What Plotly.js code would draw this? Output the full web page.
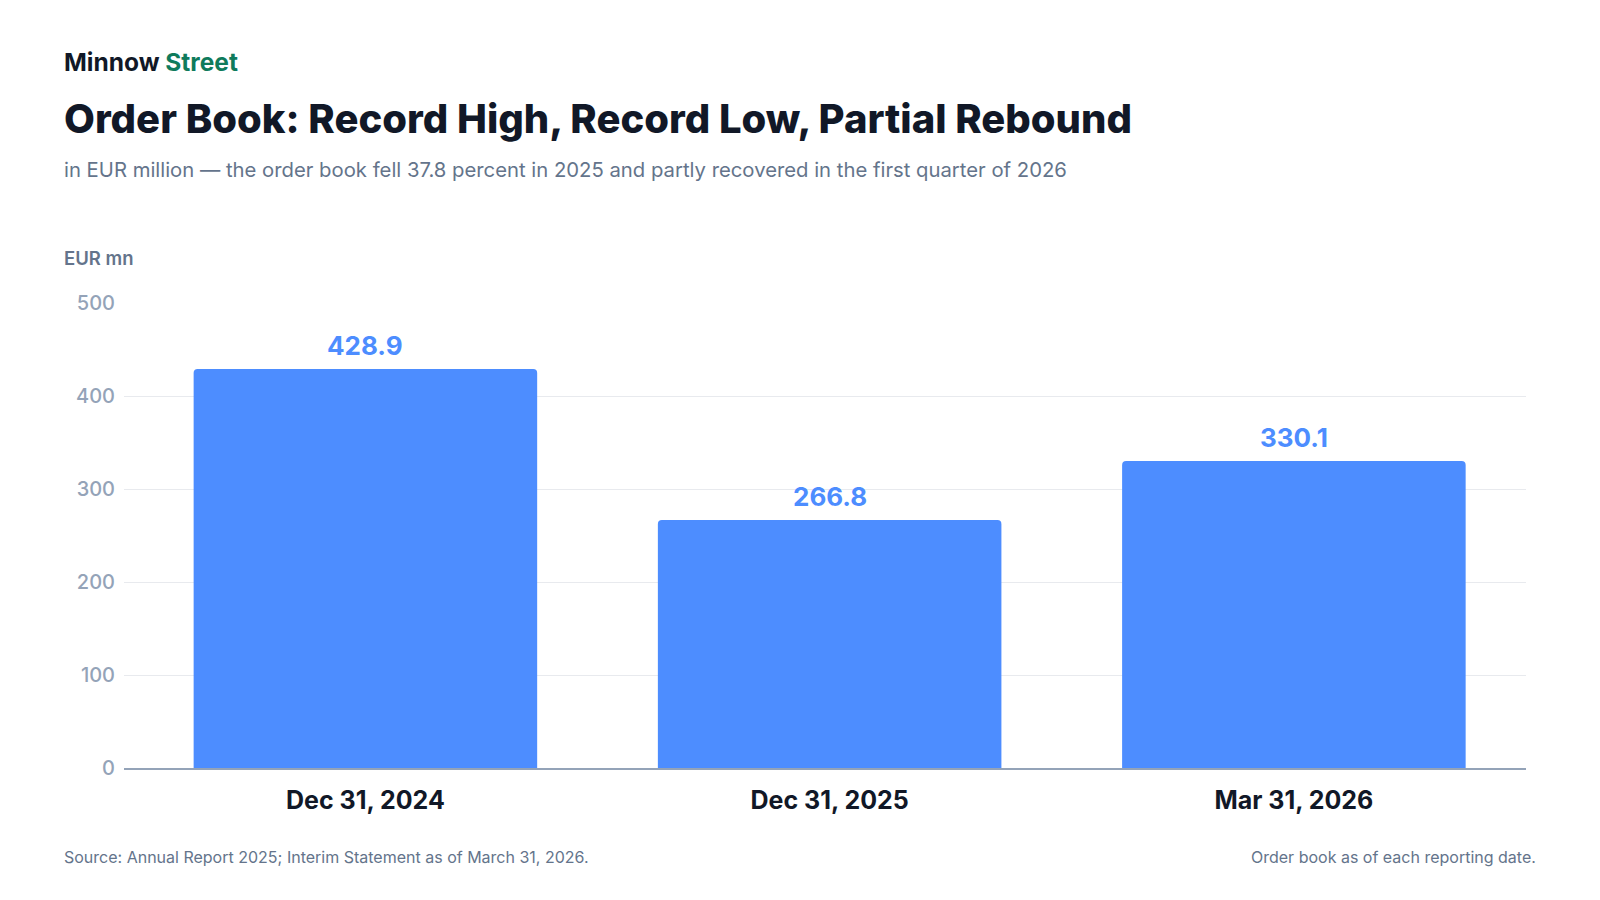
<!DOCTYPE html>
<html>
<head>
<meta charset="utf-8">
<script src="https://cdn.plot.ly/plotly-3.0.1.min.js"></script>
<style>
  html, body { margin: 0; padding: 0; background: #ffffff; }
  #chart { width: 1600px; height: 900px; }
</style>
</head>
<body>
<div id="chart"></div>
<script>
// Order book by reporting date, EUR million
const dates = ['Dec 31, 2024', 'Dec 31, 2025', 'Mar 31, 2026'];
const orderBook = [428.9, 266.8, 330.1];
const yTicks = [0, 100, 200, 300, 400, 500];

const FONT = 'Inter, "Noto Sans", sans-serif';
const BLUE = '#4d8dff';
const INK = '#111827';
const SLATE = '#64748b';
const MUTED = '#94a3b8';

// plot area in pixels
const plotLeft = 124, plotRight = 1526, plotTop = 303, plotBottom = 768;
const plotW = plotRight - plotLeft, plotH = plotBottom - plotTop;

// pixel -> paper coordinates for the text around the chart
function px(x) { return (x - plotLeft) / plotW; }
function py(y) { return (plotBottom - y) / plotH; }

function textNote(text, x, y, size, color, weight, xanchor) {
    return {
        text: text,
        xref: 'paper', yref: 'paper',
        x: px(x), y: py(y),
        xanchor: xanchor || 'left', yanchor: 'middle',
        showarrow: false,
        align: xanchor === 'right' ? 'right' : 'left',
        font: { family: FONT, size: size, color: color, weight: weight || 400 }
    };
}

const annotations = [
    textNote('Minnow <span style="color:#0f7b5c">Street</span>', 62, 62, 24.5, INK, 700),
    textNote('Order Book: Record High, Record Low, Partial Rebound', 62, 119, 40, INK, 800),
    textNote('in EUR million — the order book fell 37.8 percent in 2025 and partly recovered in the first quarter of 2026', 62, 169, 20.3, SLATE),
    textNote('EUR mn', 62, 258, 18.5, SLATE, 600),
    textNote('Source: Annual Report 2025; Interim Statement as of March 31, 2026.', 62, 857, 16, SLATE),
    textNote('Order book as of each reporting date.', 1538, 857, 16, SLATE, 400, 'right')
];

// value labels above each bar
dates.forEach(function(d, i) {
    annotations.push({
        x: i, y: orderBook[i],
        xref: 'x', yref: 'y',
        text: orderBook[i].toFixed(1),
        showarrow: false,
        yanchor: 'bottom',
        yshift: 6,
        font: { family: FONT, size: 26, color: BLUE, weight: 700 }
    });
});

const trace = {
    type: 'bar',
    x: [0, 1, 2],
    y: orderBook,
    marker: { color: BLUE, cornerradius: 4, line: { width: 0 } },
    hoverinfo: 'skip'
};

const layout = {
    width: 1600,
    height: 900,
    margin: { l: plotLeft, r: 1600 - plotRight, t: plotTop, b: 900 - plotBottom, pad: 0 },
    paper_bgcolor: '#ffffff',
    plot_bgcolor: '#ffffff',
    showlegend: false,
    bargap: 0.26,
    font: { family: FONT, color: INK },
    xaxis: {
        range: [-0.52, 2.5],
        tickmode: 'array',
        tickvals: [0, 1, 2],
        ticktext: dates,
        tickfont: { family: FONT, size: 25, color: INK, weight: 700 },
        ticks: '',
        ticklabelstandoff: 9,
        showgrid: false,
        zeroline: false,
        showline: true,
        linecolor: MUTED,
        linewidth: 2,
        fixedrange: true
    },
    yaxis: {
        range: [0, 500],
        tickmode: 'array',
        tickvals: yTicks,
        ticktext: yTicks.map(String),
        tickfont: { family: FONT, size: 20, color: MUTED, weight: 500 },
        ticks: '',
        ticklabelstandoff: 8,
        showgrid: true,
        gridcolor: '#e8eaee',
        gridwidth: 1,
        zeroline: false,
        showline: false,
        fixedrange: true
    },
    annotations: annotations
};

Plotly.newPlot('chart', [trace], layout, { displayModeBar: false, staticPlot: true });
</script>
</body>
</html>
